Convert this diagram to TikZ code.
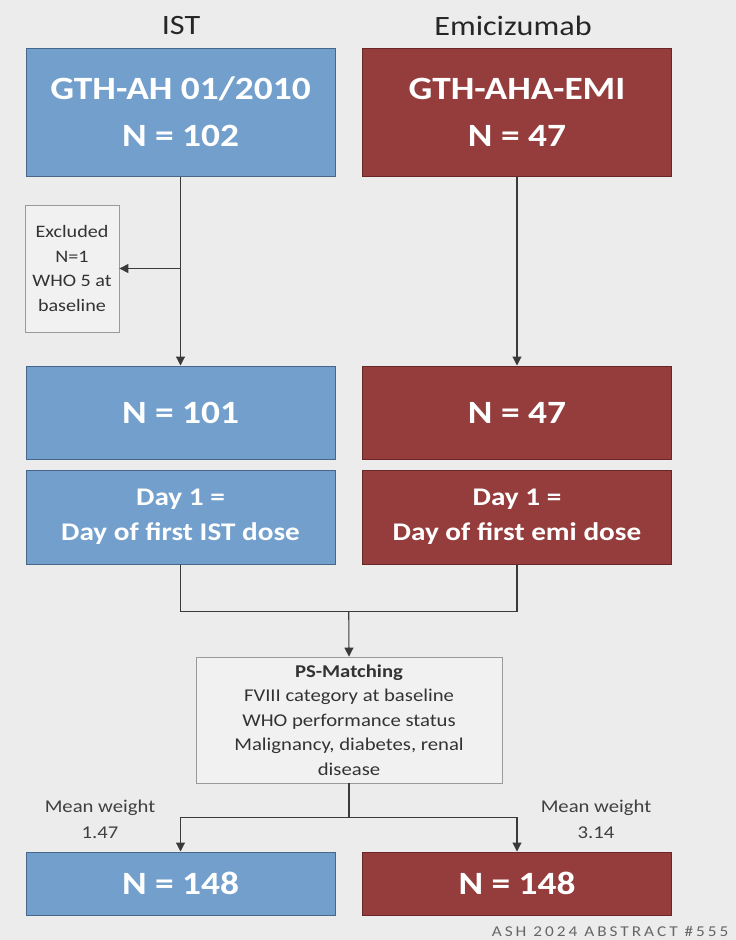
\documentclass[tikz,border=0pt]{standalone}
\usepackage{fontspec}
\setmainfont{Carlito}[FakeStretch=1.15]
\usetikzlibrary{arrows.meta,positioning,calc}
\definecolor{istblue}{HTML}{729FCC}
\definecolor{istedge}{HTML}{46678A}
\definecolor{emired}{HTML}{953D3C}
\definecolor{emiedge}{HTML}{6A2727}
\definecolor{pagebg}{HTML}{ECECEC}
\definecolor{notebg}{HTML}{F1F1F1}
\definecolor{noteedge}{HTML}{9A9A9A}
\definecolor{linec}{HTML}{3A3A3A}
\tikzset{
  arm/.style={draw=istedge,line width=1pt,fill=istblue,text=white,align=center,
    minimum width=309pt,inner sep=0pt},
  armr/.style={arm,draw=emiedge,fill=emired},
  bigf/.style={font=\bfseries\fontsize{32.5}{47}\selectfont},
  midf/.style={font=\bfseries\fontsize{25.4}{35}\selectfont},
  note/.style={draw=noteedge,line width=0.8pt,fill=notebg,align=center,inner sep=0pt,
    text=black!80},
  flow/.style={-{Triangle[length=9pt,width=9pt]},line width=1.1pt,draw=linec},
  link/.style={line width=1.1pt,draw=linec},
  head/.style={font=\fontsize{28}{34}\selectfont,text=black!85},
  wlab/.style={font=\fontsize{18}{26}\selectfont,align=center,text=black!75},
}

\begin{document}
\begin{tikzpicture}[x=1pt,y=-1pt]
  \fill[pagebg] (0,0) rectangle (736,940);
  \useasboundingbox (0,0) rectangle (736,940);
  % arm headings
  \node[head] (hist) at (181,26) {IST};
  \node[head] (hemi) at (513,26) {Emicizumab};
  % cohorts
  \node[arm,bigf,minimum height=128pt] (gth) at (180.5,112) {GTH-AH 01/2010\\N = 102};
  \node[armr,bigf,minimum height=128pt] (aha) at (517,112) {GTH-AHA-EMI\\N = 47};
  \node[note,font=\fontsize{17.5}{24.5}\selectfont,minimum width=94pt,minimum height=127pt]
    (excl) at (72,268.5) {Excluded\\N=1\\WHO 5 at\\baseline};
  \node[arm,bigf,minimum height=93pt] (n101) at (180.5,412.5) {N = 101};
  \node[armr,bigf,minimum height=93pt] (n47) at (517,412.5) {N = 47};
  \node[arm,midf,minimum height=94pt,below=10pt of n101] (dist) {Day 1 =\\Day of first IST dose};
  \node[armr,midf,minimum height=94pt,below=10pt of n47] (demi) {Day 1 =\\Day of first emi dose};
  \node[note,font=\fontsize{18}{24.5}\selectfont,minimum width=306pt,minimum height=126pt]
    (ps) at (349,720) {\textbf{PS-Matching}\\FVIII category at baseline\\WHO performance status\\
    Malignancy, diabetes, renal\\disease};
  \node[arm,bigf,minimum height=63pt] (mist) at (180.5,883.5) {N = 148};
  \node[armr,bigf,minimum height=63pt] (memi) at (517,883.5) {N = 148};
  % weights
  \node[wlab] (wist) at (100,819) {Mean weight\\1.47};
  \node[wlab] (wemi) at (596,819) {Mean weight\\3.14};
  \node[anchor=east,text=black!60,font=\fontsize{15}{16}\selectfont\addfontfeature{LetterSpace=20}]
    (src) at (732,931) {ASH 2024 ABSTRACT \#555};
  % connectors
  \draw[flow] (gth.south) -- (n101.north);
  \draw[flow] (gth.south |- excl.east) -- (excl.east);
  \draw[flow] (aha.south) -- (n47.north);
  \coordinate (merge) at ($(dist.south)!0.5!(demi.south)+(0,47)$);
  \draw[link] (dist.south) |- (merge) -| (demi.south);
  \draw[flow] (merge) -- (ps.north);
  \coordinate (split) at ($(ps.south)+(0,34)$);
  \draw[link] (ps.south) -- (split);
  \draw[flow] (split) -| (mist.north);
  \draw[flow] (split) -| (memi.north);
\end{tikzpicture}
\end{document}
